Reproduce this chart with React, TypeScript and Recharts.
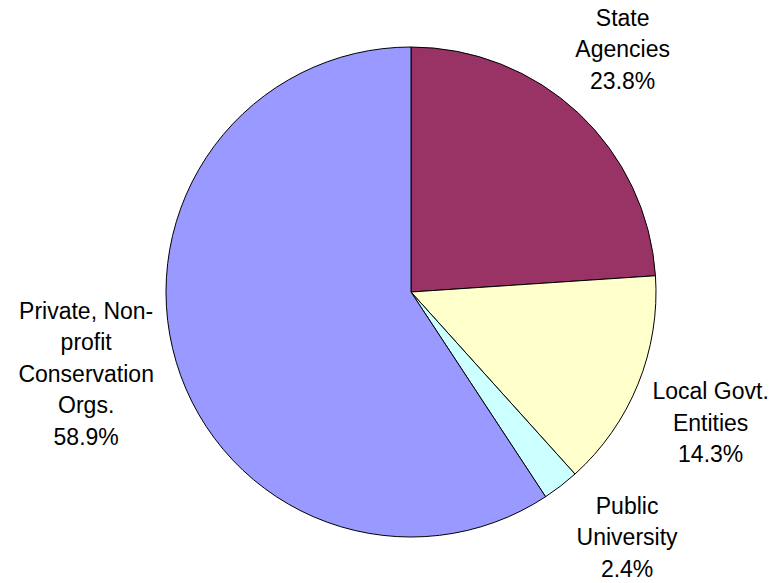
import React from 'react';
import { PieChart, Pie, Cell } from 'recharts';

const categories = ['State\nAgencies', 'Local Govt.\nEntities', 'Public\nUniversity', 'Private, Non-\nprofit\nConservation\nOrgs.'];
const values = [23.8, 14.3, 2.4, 58.9];
const colors = ['#993366', '#FFFFCC', '#CCFFFF', '#9999FF'];

const data = categories.map((name, i) => ({ name, value: values[i] }));

// label placement tweaks (radius from center, angle adjust in degrees)
const labelTweak = [
  { r: 322, da: 2 },
  { r: 327, da: -1.5 },
  { r: 327, da: 3.7 },
  { r: 335, da: -2.5 },
];

const RAD = Math.PI / 180;
const FONT = 23;
const LH = 31.5;

const renderLabel = (props: any) => {
  const { cx, cy, midAngle, index, name, value } = props;
  const t = labelTweak[index] || { r: 325, da: 0 };
  const a = (midAngle + t.da) * RAD;
  const x = cx + t.r * Math.cos(a);
  const y = cy - t.r * Math.sin(a);
  const lines = [...String(name).split('\n'), `${value.toFixed(1)}%`];
  const top = y - ((lines.length - 1) * LH) / 2;
  return (
    <text x={x} y={top} textAnchor="middle" fill="#000" fontSize={FONT} fontFamily="'Liberation Sans', Arial, sans-serif" dominantBaseline="central">
      {lines.map((l, i) => (
        <tspan key={i} x={x} y={top + i * LH}>{l}</tspan>
      ))}
    </text>
  );
};

export default function App() {
  return (
    <div style={{ position: 'absolute', left: 0, top: 0, width: 774, height: 583, background: '#fff' }}>
      <PieChart width={774} height={583} margin={{ top: 0, right: 0, bottom: 0, left: 0 }}>
        <Pie
          data={data}
          dataKey="value"
          nameKey="name"
          cx={411}
          cy={292}
          outerRadius={245}
          startAngle={90}
          endAngle={-270}
          stroke="#000"
          strokeWidth={1}
          label={renderLabel}
          labelLine={false}
          isAnimationActive={false}
        >
          {data.map((d, i) => (
            <Cell key={i} fill={colors[i]} />
          ))}
        </Pie>
      </PieChart>
    </div>
  );
}
